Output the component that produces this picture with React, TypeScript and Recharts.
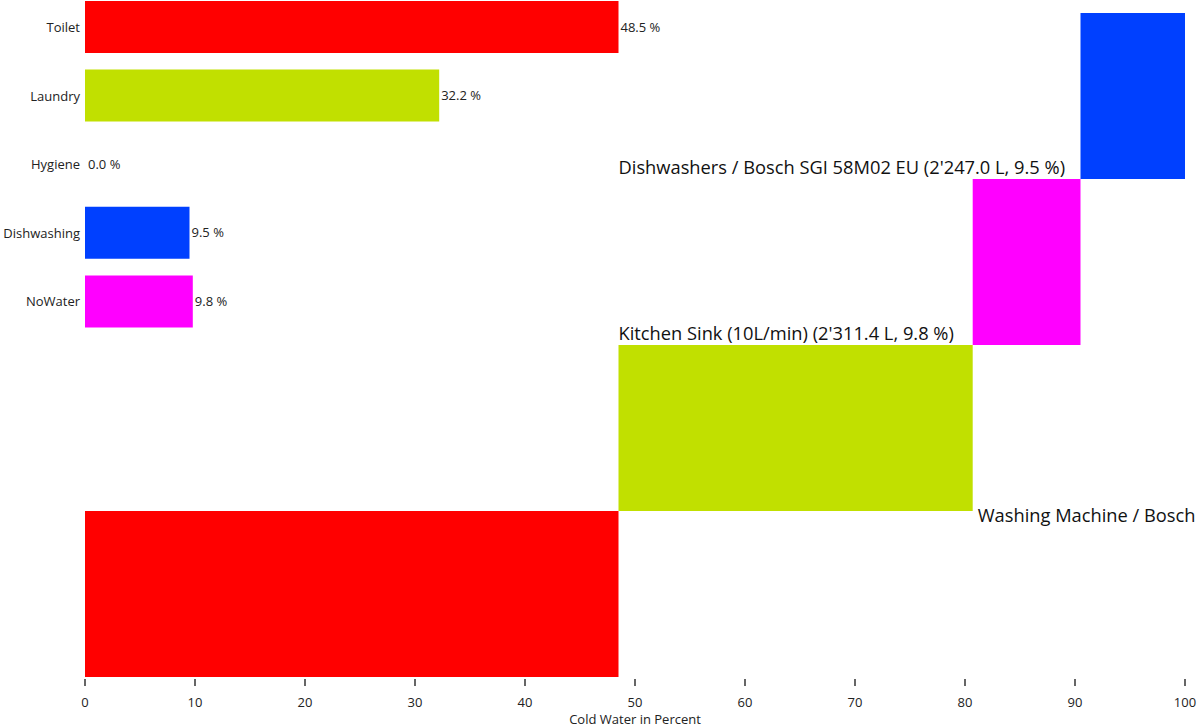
import React from 'react';
import { BarChart, Bar, XAxis, YAxis, Cell, LabelList, Label } from 'recharts';

// Top-left summary bars
const categories = ['Toilet', 'Laundry', 'Hygiene', 'Dishwashing', 'NoWater'];
const percents = [48.5, 32.2, 0.0, 9.5, 9.8];
const categoryColors = ['#ff0000', '#c1e000', '#888888', '#0040ff', '#ff00ff'];

// Waterfall steps (top row to bottom row)
const stepLabels = [
  "Dishwashers / Bosch SGI 58M02 EU (2'247.0 L, 9.5 %)",
  "Kitchen Sink (10L/min) (2'311.4 L, 9.8 %)",
  'Washing Machine / Bosch',
  '',
];
const stepValues = [9.5, 9.8, 32.2, 48.5];
const stepColors = ['#0040ff', '#ff00ff', '#c1e000', '#ff0000'];

const xTicks = [0, 10, 20, 30, 40, 50, 60, 70, 80, 90, 100];

const FONT = '"Open Sans", "Noto Sans", sans-serif';

const summaryData = categories.map((c, i) => ({ name: c, value: percents[i] }));

// offset of each step = sum of values of the rows beneath it
const stepData = stepValues.map((v, i) => ({
  name: 'step' + i,
  base: stepValues.slice(i + 1).reduce((a, b) => a + b, 0),
  value: v,
  label: stepLabels[i],
}));

const AxisTick = (props: any) => {
  const { x, y, payload } = props;
  return (
    <g>
      <line x1={x} x2={x} y1={y + 2} y2={y + 9} stroke="#333" strokeWidth={1.5} />
      <text x={x} y={y + 30} textAnchor="middle" fontSize={13} fill="#222" fontFamily={FONT}>
        {payload.value}
      </text>
    </g>
  );
};

const StepLabel = (props: any) => {
  const { x, y, width, height, index, value } = props;
  if (!value) return null;
  const d = stepData[index];
  const pxPerUnit = width / d.value;
  const plotLeft = x - d.base * pxPerUnit;
  const anchorPct = index < 2 ? stepData[2].base : d.base + d.value;
  const tx = plotLeft + anchorPct * pxPerUnit + (index < 2 ? 0 : 5);
  const ty = index < 2 ? y + height - 5 : y + height + 11;
  return (
    <text x={tx} y={ty} fontSize={18.3} fill="#111" fontFamily={FONT}>
      {value}
    </text>
  );
};

const ValueLabel = (props: any) => {
  const { x, y, width, height, value } = props;
  return (
    <text x={x + width + 2} y={y + height / 2} dy="0.35em" fontSize={13} fill="#222" fontFamily={FONT}>
      {Number(value).toFixed(1) + ' %'}
    </text>
  );
};

export default function App() {
  return (
    <div style={{ position: 'absolute', left: 0, top: 0, width: 1198, height: 727, background: '#fff', overflow: 'hidden', fontFamily: FONT }}>
      <div style={{ position: 'absolute', left: 0, top: 0 }}>
        <BarChart
          layout="vertical"
          width={1198}
          height={727}
          data={stepData}
          margin={{ top: 13, right: 13, bottom: 0, left: 85 }}
          barCategoryGap={0}
        >
          <XAxis
            type="number"
            domain={[0, 100]}
            ticks={xTicks}
            interval={0}
            height={50}
            axisLine={false}
            tickLine={false}
            tickSize={0}
            tickMargin={0}
            tick={<AxisTick />}
          >
            <Label value="Cold Water in Percent" position="insideBottom" offset={3} fontSize={13} fill="#222" fontFamily={FONT} />
          </XAxis>
          <YAxis type="category" dataKey="name" hide />
          <Bar dataKey="base" stackId="s" fill="transparent" isAnimationActive={false} />
          <Bar dataKey="value" stackId="s" isAnimationActive={false}>
            {stepData.map((d, i) => (
              <Cell key={d.name} fill={stepColors[i]} />
            ))}
            <LabelList dataKey="label" content={<StepLabel />} />
          </Bar>
        </BarChart>
      </div>
      <div style={{ position: 'absolute', left: 0, top: -7 }}>
        <BarChart
          layout="vertical"
          width={1198}
          height={343}
          data={summaryData}
          margin={{ top: 0, right: 13, bottom: 0, left: 0 }}
          barSize={52}
        >
          <XAxis type="number" domain={[0, 100]} hide />
          <YAxis
            type="category"
            dataKey="name"
            width={85}
            axisLine={false}
            tickLine={false}
            tickSize={0}
            tickMargin={5}
            tick={{ fontSize: 13, fill: '#222', fontFamily: FONT }}
          />
          <Bar dataKey="value" isAnimationActive={false} minPointSize={1}>
            {summaryData.map((d, i) => (
              <Cell key={d.name} fill={d.value > 0 ? categoryColors[i] : 'none'} />
            ))}
            <LabelList dataKey="value" content={<ValueLabel />} />
          </Bar>
        </BarChart>
      </div>
    </div>
  );
}
